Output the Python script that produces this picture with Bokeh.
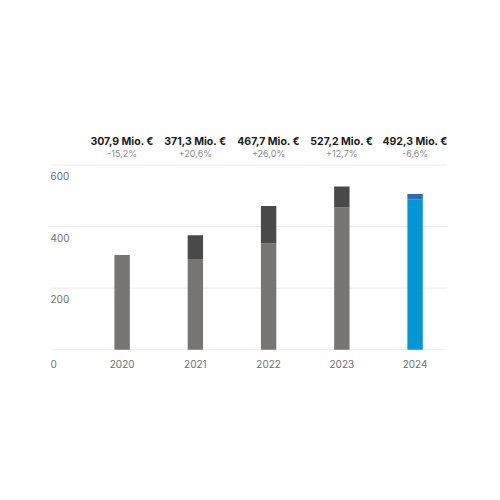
from bokeh.plotting import figure
from bokeh.models import Range1d, ColumnDataSource
from bokeh.core.properties import value
from bokeh.embed import file_html
from bokeh.resources import INLINE

# ---- data ----
years = [2020, 2021, 2022, 2023, 2024]
base_values = [308, 295, 345, 462, 489]
extra_values = [0, 77, 122, 68, 17]
total_labels = ["307,9 Mio. €", "371,3 Mio. €", "467,7 Mio. €", "527,2 Mio. €", "492,3 Mio. €"]
change_labels = ["-15,2%", "+20,6%", "+26,0%", "+12,7%", "-6,6%"]
y_ticks = [0, 200, 400, 600]

FONT = "Inter"
LABEL_GRAY = "#707070"
base_colors = ["#777474"] * 4 + ["#0097d7"]
extra_colors = ["#4a4949"] * 4 + ["#2b6db6"]

X0, X1 = 2019.022, 2024.437      # extent of gridlines
tops = [b + e for b, e in zip(base_values, extra_values)]
src = ColumnDataSource(dict(
    x=years, base=base_values, top=tops,
    bc=base_colors, ec=extra_colors,
    tl=total_labels, cl=change_labels,
    ly=[y_ticks[-1]] * len(years),
    zy=[y_ticks[0]] * len(years),
    yl=[str(y) for y in years],
))

p = figure(width=492, height=492, output_backend="svg", toolbar_location=None,
           x_range=Range1d(X0, 2024.62), y_range=Range1d(-73.7, 744.5),
           x_axis_location=None, y_axis_location=None,
           min_border_left=50, min_border_right=32, min_border_top=120, min_border_bottom=120)
p.outline_line_color = None
p.background_fill_color = "white"
p.border_fill_color = "white"
p.xgrid.visible = False
p.ygrid.visible = False

# gridlines
gsrc = ColumnDataSource(dict(x0=[X0] * len(y_ticks), x1=[X1] * len(y_ticks), y=y_ticks))
p.segment(x0="x0", y0="y", x1="x1", y1="y", source=gsrc, line_color="#ececec", line_width=1)

# bars
p.vbar(x="x", width=0.21, bottom=0, top="base", fill_color="bc", line_color=None, source=src)
p.vbar(x="x", width=0.21, bottom="base", top="top", fill_color="ec", line_color=None, source=src)

# y labels (left-aligned under gridlines)
ysrc = ColumnDataSource(dict(x=[X0] * (len(y_ticks) - 1), y=y_ticks[1:], t=[str(v) for v in y_ticks[1:]]))
p.text(x="x", y="y", text="t", source=ysrc, text_font=value(FONT), text_font_size="10px",
       text_color=LABEL_GRAY, text_align="left", text_baseline="middle", y_offset=11)
zsrc = ColumnDataSource(dict(x=[X0], y=y_ticks[:1], t=[str(y_ticks[0])]))
p.text(x="x", y="y", text="t", source=zsrc, text_font=value(FONT), text_font_size="10px",
       text_color=LABEL_GRAY, text_align="left", text_baseline="middle", y_offset=14)

# year labels
p.text(x="x", y="zy", text="yl", source=src, text_font=value(FONT), text_font_size="10px",
       text_color=LABEL_GRAY, text_align="center", text_baseline="middle", y_offset=14)

# top annotations
p.text(x="x", y="ly", text="tl", source=src, text_font=value(FONT),
       text_font_size="10.5px", text_font_style="bold", text_color="#1a1a1a",
       text_align="center", text_baseline="middle", y_offset=-24)
p.text(x="x", y="ly", text="cl", source=src, text_font=value(FONT),
       text_font_size="9px", text_color="#8a8a8a",
       text_align="center", text_baseline="middle", y_offset=-12)

open("out.html", "w").write(file_html(p, INLINE))
